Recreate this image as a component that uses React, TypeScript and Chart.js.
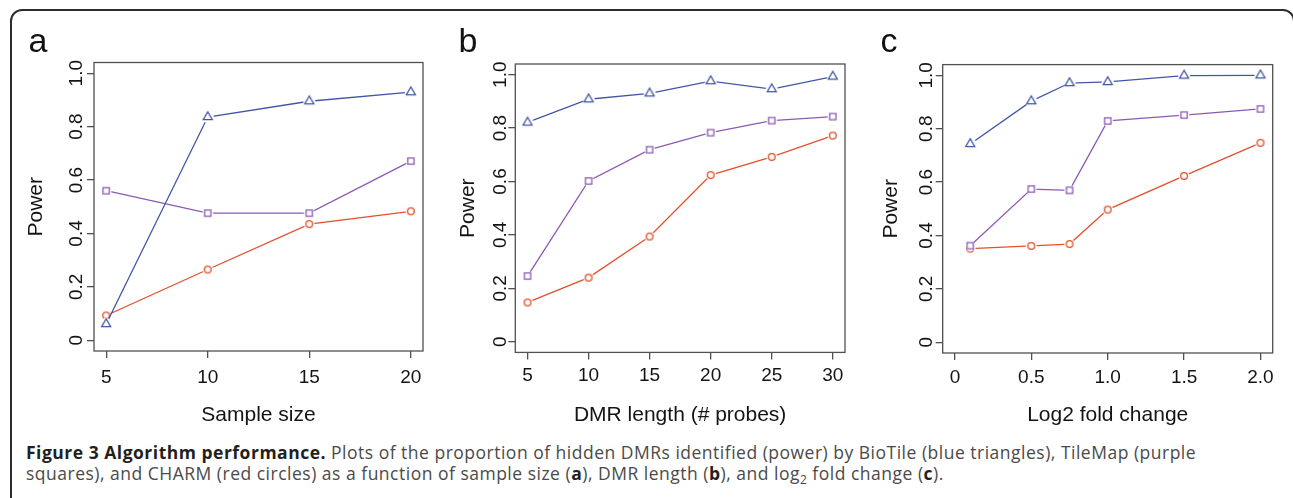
import React, { useEffect, useRef } from 'react';
import { Chart, registerables } from 'chart.js';

Chart.register(...registerables);

// ---------- data ----------
const sampleSizes = [5, 10, 15, 20];
const bioTileA = [0.061, 0.836, 0.895, 0.929];
const tileMapA = [0.56, 0.476, 0.476, 0.671];
const charmA = [0.093, 0.265, 0.435, 0.483];

const dmrLengths = [5, 10, 15, 20, 25, 30];
const bioTileB = [0.821, 0.908, 0.93, 0.976, 0.946, 0.993];
const tileMapB = [0.246, 0.602, 0.719, 0.783, 0.828, 0.843];
const charmB = [0.147, 0.24, 0.394, 0.624, 0.692, 0.772];

const foldChanges = [0.1, 0.5, 0.75, 1.0, 1.5, 2.0];
const bioTileC = [0.743, 0.903, 0.971, 0.975, 0.999, 1.0];
const tileMapC = [0.362, 0.574, 0.569, 0.829, 0.851, 0.874];
const charmC = [0.351, 0.361, 0.368, 0.497, 0.623, 0.747];

const powerTicks = [0, 0.2, 0.4, 0.6, 0.8, 1.0];
const powerTickLabels = ['0', '0.2', '0.4', '0.6', '0.8', '1.0'];
const sampleTicks = [5, 10, 15, 20];
const sampleTickLabels = ['5', '10', '15', '20'];
const dmrTicks = [5, 10, 15, 20, 25, 30];
const dmrTickLabels = ['5', '10', '15', '20', '25', '30'];
const foldTicks = [0, 0.5, 1.0, 1.5, 2.0];
const foldTickLabels = ['0', '0.5', '1.0', '1.5', '2.0'];

// ---------- styles ----------
const BLUE = '#4256a6';
const PURPLE = '#8c5ab2';
const RED = '#e2502c';
const AXIS = '#505050';
const TEXT = '#141414';
const FONT = '"Liberation Sans", Arial, sans-serif';
const TICK_SIZE = 19;
const TITLE_SIZE = 21;

type PanelCfg = {
  letter: string;
  letterX: number;
  xTitle: string;
  xs: number[];
  blue: number[];
  purple: number[];
  red: number[];
  xTicks: number[];
  xTickLabels: string[];
  xMin: number;
  xMax: number;
  box: [number, number, number, number]; // left, top, right, bottom of plot region
  yTitleCenter: number;
  yLabelBase: number;
  xTickCenter: number;
};

const panels: PanelCfg[] = [
  {
    letter: 'a', letterX: 28.5, xTitle: 'Sample size',
    xs: sampleSizes, blue: bioTileA, purple: tileMapA, red: charmA,
    xTicks: sampleTicks, xTickLabels: sampleTickLabels, xMin: 4.4, xMax: 20.6,
    box: [94, 62.5, 423, 351], yTitleCenter: 36.7, yLabelBase: 81.5, xTickCenter: 377.5,
  },
  {
    letter: 'b', letterX: 458.5, xTitle: 'DMR length (# probes)',
    xs: dmrLengths, blue: bioTileB, purple: tileMapB, red: charmB,
    xTicks: dmrTicks, xTickLabels: dmrTickLabels, xMin: 4, xMax: 31,
    box: [515.3, 64, 845, 352.4], yTitleCenter: 468.3, yLabelBase: 506, xTickCenter: 375.5,
  },
  {
    letter: 'c', letterX: 880.5, xTitle: 'Log2 fold change',
    xs: foldChanges, blue: bioTileC, purple: tileMapC, red: charmC,
    xTicks: foldTicks, xTickLabels: foldTickLabels, xMin: -0.08, xMax: 2.08,
    box: [942.7, 64.6, 1272.7, 353], yTitleCenter: 890.8, yLabelBase: 931.5, xTickCenter: 377.5,
  },
];

const CANVAS_BOTTOM = 440;

function makeMarker(kind: 'triangle' | 'square' | 'circle', color: string): HTMLCanvasElement {
  const s = 20;
  const c = document.createElement('canvas');
  c.width = s;
  c.height = s;
  const ctx = c.getContext('2d')!;
  const m = s / 2;
  ctx.fillStyle = '#ffffff';
  ctx.beginPath();
  ctx.arc(m, m, kind === 'triangle' ? 6 : 5.3, 0, Math.PI * 2);
  ctx.fill();
  ctx.strokeStyle = color;
  ctx.lineWidth = 1.3;
  ctx.beginPath();
  const R = 3.35;
  if (kind === 'triangle') {
    const r = 1.555 * R, xc = 1.347 * R, yc = 0.778 * R;
    ctx.moveTo(m, m - r);
    ctx.lineTo(m + xc, m + yc);
    ctx.lineTo(m - xc, m + yc);
    ctx.closePath();
  } else if (kind === 'square') {
    ctx.rect(m - R + 0.2, m - R + 0.2, 2 * R - 0.4, 2 * R - 0.4);
  } else {
    ctx.arc(m, m, R, 0, Math.PI * 2);
  }
  ctx.stroke();
  return c;
}

function PanelChart({ p }: { p: PanelCfg }) {
  const ref = useRef<HTMLCanvasElement | null>(null);
  const [L, T, Rr, B] = p.box;
  const canvasLeft = Math.floor(L) - 80;
  const canvasTop = Math.floor(T) - 12;
  const width = Math.ceil(Rr + 18 - canvasLeft);
  const height = CANVAS_BOTTOM - canvasTop;

  useEffect(() => {
    const canvas = ref.current;
    if (!canvas) return;
    const yWidth = L - canvasLeft;
    const padTop = T - canvasTop;
    const padRight = canvasLeft + width - Rr;
    const xHeight = CANVAS_BOTTOM - B;
    const tickLen = 7;
    const xTickPad = p.xTickCenter - B - tickLen - (TICK_SIZE * 1.2) / 2;
    const xTitlePad = CANVAS_BOTTOM - 415 - (TITLE_SIZE * 1.2) / 2;
    const yTitlePad = p.yTitleCenter - canvasLeft - (TITLE_SIZE * 1.2) / 2;

    const rPlugin = {
      id: 'rStyle',
      beforeDatasetsDraw(chart: any) {
        const { ctx, chartArea } = chart;
        ctx.save();
        ctx.strokeStyle = AXIS;
        ctx.lineWidth = 1.3;
        ctx.strokeRect(chartArea.left, chartArea.top, chartArea.right - chartArea.left, chartArea.bottom - chartArea.top);
        ctx.restore();
      },
      afterDraw(chart: any) {
        const { ctx } = chart;
        const ys = chart.scales.y;
        ctx.save();
        ctx.fillStyle = TEXT;
        ctx.font = `${TICK_SIZE}px ${FONT}`;
        ctx.textAlign = 'center';
        ctx.textBaseline = 'alphabetic';
        ys.ticks.forEach((t: any) => {
          const py = ys.getPixelForValue(t.value);
          ctx.save();
          ctx.translate(p.yLabelBase - canvasLeft, py);
          ctx.rotate(-Math.PI / 2);
          ctx.fillText(String(t.label), 0, 0);
          ctx.restore();
        });
        ctx.restore();
      },
    };

    const mk = (label: string, ys: number[], color: string, kind: 'triangle' | 'square' | 'circle') => ({
      label,
      data: p.xs.map((x, i) => ({ x, y: ys[i] })),
      borderColor: color,
      borderWidth: 1.3,
      backgroundColor: color,
      pointStyle: makeMarker(kind, color),
      pointRadius: 5,
      pointHoverRadius: 5,
      tension: 0,
      fill: false,
    });

    const chart = new Chart(canvas, {
      type: 'line',
      data: {
        datasets: [
          mk('BioTile', p.blue, BLUE, 'triangle'),
          mk('TileMap', p.purple, PURPLE, 'square'),
          mk('CHARM', p.red, RED, 'circle'),
        ],
      },
      plugins: [rPlugin],
      options: {
        responsive: false,
        animation: false,
        events: [],
        layout: { padding: { left: 0, top: padTop, right: padRight, bottom: 0 } },
        plugins: { legend: { display: false }, tooltip: { enabled: false } },
        scales: {
          x: {
            type: 'linear',
            min: p.xMin,
            max: p.xMax,
            afterBuildTicks: (s: any) => { s.ticks = p.xTicks.map((v) => ({ value: v })); },
            afterFit: (s: any) => { s.height = xHeight; },
            ticks: {
              callback: (_v: any, i: number) => p.xTickLabels[i],
              font: { family: FONT, size: TICK_SIZE },
              color: TEXT,
              padding: xTickPad,
              maxRotation: 0,
              minRotation: 0,
              autoSkip: false,
            },
            grid: { drawOnChartArea: false, drawTicks: true, tickLength: tickLen, color: AXIS, lineWidth: 1.3 },
            border: { display: false },
            title: {
              display: true,
              text: p.xTitle,
              font: { family: FONT, size: TITLE_SIZE },
              color: TEXT,
              padding: { top: 0, bottom: xTitlePad },
            },
          },
          y: {
            type: 'linear',
            min: -0.04,
            max: 1.04,
            afterBuildTicks: (s: any) => { s.ticks = powerTicks.map((v) => ({ value: v })); },
            afterFit: (s: any) => { s.width = yWidth; },
            ticks: {
              display: false,
              callback: (_v: any, i: number) => powerTickLabels[i],
              font: { family: FONT, size: TICK_SIZE },
            },
            grid: { drawOnChartArea: false, drawTicks: true, tickLength: tickLen, color: AXIS, lineWidth: 1.3 },
            border: { display: false },
            title: {
              display: true,
              text: 'Power',
              font: { family: FONT, size: TITLE_SIZE },
              color: TEXT,
              padding: { top: yTitlePad, bottom: 0 },
            },
          },
        },
      } as any,
    });
    return () => chart.destroy();
  }, []);

  return (
    <>
      <canvas
        ref={ref}
        width={width}
        height={height}
        style={{ position: 'absolute', left: canvasLeft, top: canvasTop, width, height }}
      />
      <div
        style={{
          position: 'absolute',
          left: p.letterX,
          top: 23.3,
          fontFamily: FONT,
          fontSize: 34,
          lineHeight: '34px',
          color: '#111',
        }}
      >
        {p.letter}
      </div>
    </>
  );
}

export default function App() {
  const bold = { fontWeight: 700, color: '#231f20' };
  return (
    <div
      style={{
        position: 'absolute',
        left: 0,
        top: 0,
        width: 1293,
        height: 498,
        overflow: 'hidden',
        background: '#ffffff',
      }}
    >
      <div
        style={{
          position: 'absolute',
          left: 10,
          top: 9,
          width: 1285,
          height: 540,
          boxSizing: 'border-box',
          border: '2px solid #2e2e2e',
          borderRadius: '12px 12px 0 0',
        }}
      />
      {panels.map((p) => (
        <PanelChart key={p.letter} p={p} />
      ))}
      <div
        style={{
          position: 'absolute',
          left: 26,
          top: 441.7,
          fontFamily: '"Open Sans", sans-serif',
          fontSize: 17.5,
          letterSpacing: '0.5px',
          lineHeight: '21px',
          color: '#4a4a4a',
          whiteSpace: 'nowrap',
        }}
      >
        <div>
          <span style={bold}>Figure 3 Algorithm performance.</span> Plots of the proportion of hidden DMRs
          identified (power) by BioTile (blue triangles), TileMap (purple
        </div>
        <div>
          squares), and CHARM (red circles) as a function of sample size (<span style={bold}>a</span>), DMR length (
          <span style={bold}>b</span>), and log<span style={{ fontSize: 12, position: 'relative', top: 4 }}>2</span>{' '}
          fold change (<span style={bold}>c</span>).
        </div>
      </div>
    </div>
  );
}
